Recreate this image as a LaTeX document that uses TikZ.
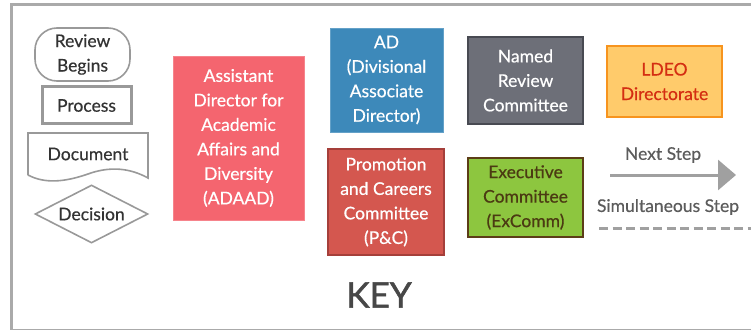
\documentclass[tikz,border=0pt]{standalone}
\usepackage{fontspec}
\setmainfont{Lato}[FakeBold=0.5]
\usepackage{tikz}
\usepackage{xcolor}
\usetikzlibrary{positioning, arrows.meta}
\usetikzlibrary{shapes, positioning}

\definecolor{framegray}{HTML}{AAAAAA}
\definecolor{shapegray}{HTML}{999999}
\definecolor{textgray}{HTML}{333333}
\definecolor{adaadred}{HTML}{F4656F}
\definecolor{adblue}{HTML}{3D89BA}
\definecolor{namedgray}{HTML}{6D6F78}
\definecolor{nameddark}{HTML}{484A52}
\definecolor{ldeofill}{HTML}{FFCB6B}
\definecolor{ldeoline}{HTML}{F7941E}
\definecolor{ldeotext}{HTML}{D42E12}
\definecolor{pcfill}{HTML}{D4574F}
\definecolor{pcline}{HTML}{A53F3A}
\definecolor{exfill}{HTML}{8DC63F}
\definecolor{exline}{HTML}{5C3D17}
\definecolor{extext}{HTML}{4B3A12}
\definecolor{arrowgray}{HTML}{A0A0A0}

\begin{document}
\begin{tikzpicture}[x=1pt, y=-1pt,
    keytext/.style={font=\fontsize{17.5}{24.5}\selectfont, align=center, inner sep=0pt},
    keyshape/.style={keytext, draw=shapegray, text=textgray},
    keybox/.style={keytext, text=white}]
            \useasboundingbox (0,0) rectangle (751,331);

            % frame
            \draw[framegray, line width=3pt] (751,5) -- (11.5,5) -- (11.5,329.5);
            \draw[framegray, line width=1.5pt] (10,329.5) -- (751,329.5);

            % flowchart shapes
            \node[keyshape, line width=1.6pt, rounded corners=22pt, minimum width=95pt, minimum height=53pt] (begins) at (82.5,54.5) {Review\\Begins};
            \node[keyshape, line width=3pt, minimum width=89pt, minimum height=37pt] (process) at (86.5,105.5) {Process};
            \node[keytext, text=textgray] (doc) at (88,154) {Document};
            \draw[shapegray, line width=1.6pt] (28,175) -- (28,133) -- (148,133) -- (148,178) .. controls (130,168) and (110,166) .. (88,174) .. controls (65,182) and (45,184) .. (28,175);
            \node[keyshape, line width=1.6pt, diamond, shape aspect=2, minimum width=113pt, minimum height=58pt] (decision) at (91.5,214) {Decision};

            % people and committees
            \node[keybox, fill=adaadred, draw=adaadred!80!white, minimum width=131pt, minimum height=164pt] (adaad) at (238.5,138) {Assistant\\Director for\\Academic\\Affairs and\\Diversity\\(ADAAD)};
            \node[keybox, fill=adblue, draw=adblue!80!white, minimum width=113pt, minimum height=104pt] (ad) at (386.5,80) {AD\\(Divisional\\Associate\\Director)};
            \node[keybox, fill=namedgray, draw=nameddark, line width=2.5pt, minimum width=115pt, minimum height=87pt] (named) at (525.5,80.5) {Named\\Review\\Committee};
            \node[keybox, fill=ldeofill, draw=ldeoline, text=ldeotext, line width=2.5pt, minimum width=115pt, minimum height=71pt] (ldeo) at (664.5,81.5) {LDEO\\Directorate};
            \node[keybox, fill=pcfill, draw=pcline, line width=2.5pt, minimum width=116pt, minimum height=106pt] (pc) at (386,202) {Promotion\\and Careers\\Committee\\(P\&C)};
            \node[keybox, fill=exfill, draw=exline, text=extext, line width=2.5pt, minimum width=115pt, minimum height=79pt] (excomm) at (525.5,197.5) {Executive\\Committee\\(ExComm)};

            % steps
            \node[keytext, text=textgray!80!white] (nextlabel) at (663,155) {Next Step};
            \coordinate (nextstart) at (610,175);
            \coordinate (nextend) at (736,175);
            \draw[arrowgray, line width=3pt, -{Triangle[length=18pt, width=30pt]}] (nextstart) -- (nextend);
            \node[keytext, text=textgray!80!white] (simlabel) at (668,207) {Simultaneous Step};
            \coordinate (simstart) at (599,228);
            \coordinate (simend) at (751,228);
            \draw[arrowgray, line width=3pt, dash pattern=on 9pt off 4.5pt] (simstart) -- (simend);

            \node[font=\fontsize{35}{40}\selectfont\addfontfeature{FakeBold=1.5}, text=textgray!90!white, inner sep=0pt] (key) at (379,295) {KEY};
        \end{tikzpicture}
\end{document}
